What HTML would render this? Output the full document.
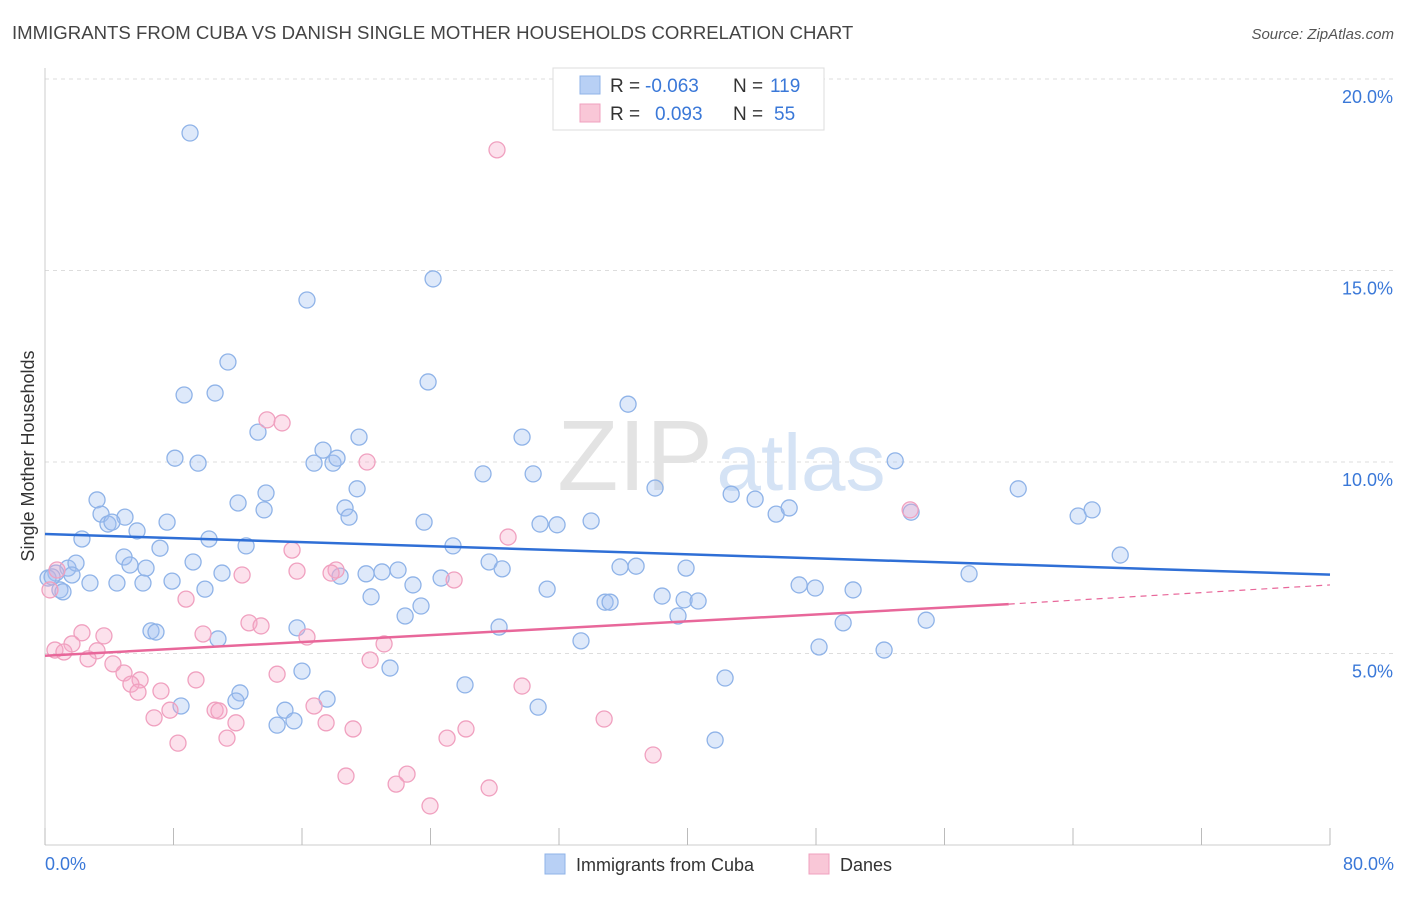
<!DOCTYPE html>
<html><head><meta charset="utf-8"><style>
body{margin:0;background:#fff;font-family:"Liberation Sans",sans-serif}
svg text{font-family:"Liberation Sans",sans-serif}
</style></head><body>
<svg id="chart" width="1406" height="892">
<text x="12" y="39" font-size="18.6" fill="#444">IMMIGRANTS FROM CUBA VS DANISH SINGLE MOTHER HOUSEHOLDS CORRELATION CHART</text>
<text x="1394" y="39" font-size="15" fill="#555" font-style="italic" text-anchor="end">Source: ZipAtlas.com</text>
<g id="grid"></g>
<text x="635" y="490" font-size="100" fill="#e3e3e3" font-family="Liberation Serif" text-anchor="middle">ZIP</text>
<text x="801" y="490" font-size="80" fill="#d5e3f5" text-anchor="middle">atlas</text>
<line x1="45" y1="68" x2="45" y2="845" stroke="#ccc"/>
<line x1="45" y1="845" x2="1330" y2="845" stroke="#ccc"/>
<g id="xticks"></g>
<g id="yticks"></g>
<text x="45" y="870" font-size="18" fill="#3a78d8">0.0%</text>
<text x="1394" y="870" font-size="18" fill="#3a78d8" text-anchor="end">80.0%</text>
<text transform="translate(34,456) rotate(-90)" font-size="18" fill="#333" text-anchor="middle">Single Mother Households</text>
<g id="pts"></g>
<g id="trends"></g>
<g>
<rect x="553" y="68" width="271" height="62" fill="#fff" stroke="#ddd"/>
<rect x="580" y="76" width="20" height="18" fill="#b8d0f5" stroke="#8fb3e8"/>
<rect x="580" y="104" width="20" height="18" fill="#f9c7d7" stroke="#f0a0bf"/>
<text x="610" y="92" font-size="19" fill="#333">R =</text>
<text x="645" y="92" font-size="19" fill="#3a78d8">-0.063</text>
<text x="733" y="92" font-size="19" fill="#333">N =</text>
<text x="770" y="92" font-size="19" fill="#3a78d8">119</text>
<text x="610" y="120" font-size="19" fill="#333">R =</text>
<text x="655" y="120" font-size="19" fill="#3a78d8">0.093</text>
<text x="733" y="120" font-size="19" fill="#333">N =</text>
<text x="774" y="120" font-size="19" fill="#3a78d8">55</text>
</g>
<g>
<rect x="545" y="854" width="20" height="20" fill="#b8d0f5" stroke="#8fb3e8"/>
<text x="576" y="871" font-size="18" fill="#333">Immigrants from Cuba</text>
<rect x="809" y="854" width="20" height="20" fill="#f9c7d7" stroke="#f0a0bf"/>
<text x="840" y="871" font-size="18" fill="#333">Danes</text>
</g>
</svg>
<script>
const yTicks=[5,10,15,20];
const yTickLabels=["5.0%","10.0%","15.0%","20.0%"];
const xTickVals=[0,8,16,24,32,40,48,56,64,72,80];
const cubaX=[9.03,24.16,16.31,11.39,23.85,8.66,10.59,36.30,13.26,29.70,19.55,17.31,8.09,9.53,16.75,17.93,18.18,52.93,27.27,30.39,3.24,12.02,13.76,19.43,37.98,42.72,44.21,60.59,3.49,4.98,13.64,18.68,18.93,23.60,30.82,31.88,34.00,45.52,46.33,53.92,64.32,65.19,3.92,4.17,7.60,5.73,2.30,10.21,7.16,12.52,25.40,66.94,4.92,5.29,6.29,1.43,0.68,1.93,1.68,0.19,0.93,2.80,4.48,6.10,7.91,9.22,11.02,9.96,18.37,19.99,20.98,21.98,24.66,22.91,27.65,28.46,31.26,35.80,36.80,39.91,57.53,46.95,47.95,50.31,20.30,23.41,22.42,34.87,35.18,38.42,39.79,40.66,39.41,15.69,28.27,6.60,6.91,10.77,33.37,49.69,54.86,48.19,52.24,21.48,16.00,42.34,26.15,12.14,11.89,8.47,17.56,30.70,14.94,14.45,15.50,41.72,1.12,0.44];
const cubaY=[18.59,14.78,14.23,12.61,12.09,11.75,11.80,11.51,10.78,10.65,10.65,10.31,10.10,9.97,9.97,9.97,10.10,10.03,9.69,9.69,9.01,8.93,9.19,9.30,9.32,9.16,9.03,9.30,8.64,8.56,8.75,8.80,8.56,8.43,8.38,8.36,8.46,8.64,8.80,8.69,8.59,8.75,8.38,8.43,8.43,8.20,7.99,7.99,7.75,7.81,7.81,7.57,7.52,7.31,7.23,7.23,7.10,7.36,7.05,6.97,6.66,6.84,6.84,6.84,6.89,7.39,7.10,6.68,7.02,7.08,7.13,7.18,6.97,6.79,7.39,7.21,6.68,7.26,7.28,7.23,7.08,6.79,6.71,6.66,6.48,6.24,5.98,6.34,6.34,6.50,6.40,6.37,5.98,5.67,5.69,5.59,5.56,5.38,5.33,5.80,5.87,5.17,5.09,4.62,4.54,4.36,4.18,3.97,3.76,3.63,3.81,3.60,3.52,3.13,3.24,2.74,6.61,7.00];
const danesX=[28.14,13.82,14.76,20.05,53.86,28.83,15.38,0.75,0.31,18.12,15.69,12.27,17.81,25.47,8.78,12.70,13.45,9.84,16.31,2.30,3.67,1.68,21.11,0.62,1.18,3.24,2.68,20.24,4.23,4.92,5.92,5.35,9.40,14.45,7.22,5.79,7.78,16.75,10.59,10.83,29.70,6.79,11.89,17.50,19.18,26.21,25.03,11.33,8.28,34.81,37.86,18.74,22.54,21.86,23.97,27.65];
const danesY=[18.15,11.10,11.02,10.00,8.75,8.04,7.70,7.18,6.66,7.18,7.15,7.05,7.10,6.92,6.42,5.80,5.72,5.51,5.43,5.54,5.46,5.25,5.25,5.09,5.04,5.07,4.86,4.83,4.73,4.49,4.31,4.20,4.31,4.46,4.02,3.99,3.52,3.63,3.52,3.50,4.15,3.32,3.19,3.19,3.03,3.03,2.79,2.79,2.66,3.29,2.35,1.80,1.85,1.59,1.02,1.49];
const cubaTrend=[8.12,7.06];
const danesTrend=[4.94,6.29,6.79];
const danesSolidEnd=60;

const NS="http://www.w3.org/2000/svg";
const sx=v=>45+v*(1285/80);
const sy=v=>845-v*(766/20);
function mk(tag,parent,attrs){const e=document.createElementNS(NS,tag);for(const k in attrs)e.setAttribute(k,attrs[k]);parent.appendChild(e);return e;}
const grid=document.getElementById('grid'),yt=document.getElementById('yticks'),xt=document.getElementById('xticks');
yTicks.forEach((t,i)=>{
 const l=mk('line',grid,{x1:45,x2:1395,y1:sy(t),y2:sy(t),stroke:'#ddd','stroke-dasharray':'4,4'});
 
 
 const tx=mk('text',yt,{x:1393,y:sy(t)+24,'font-size':18,fill:'#3a78d8','text-anchor':'end'});
 tx.textContent=yTickLabels[i];
 
 
});
xTickVals.forEach(t=>{
 const l=mk('line',xt,{x1:sx(t),x2:sx(t),y1:828,y2:845,stroke:'#bbb'});
 
 
});
const pts=document.getElementById('pts');
cubaX.forEach((x,i)=>{
 const c=mk('circle',pts,{cx:sx(x),cy:sy(cubaY[i]),r:8,fill:'rgba(160,192,240,0.35)',stroke:'#8fb3e8','stroke-width':1.3});
 
 
});
danesX.forEach((x,i)=>{
 const c=mk('circle',pts,{cx:sx(x),cy:sy(danesY[i]),r:8,fill:'rgba(245,170,200,0.35)',stroke:'#f0a0bf','stroke-width':1.3});
 
 
});
const tr=document.getElementById('trends');
const bl=mk('line',tr,{x1:sx(0),y1:sy(cubaTrend[0]),x2:sx(80),y2:sy(cubaTrend[1]),stroke:'#2f6fd6','stroke-width':2.5});


const pl=mk('line',tr,{x1:sx(0),y1:sy(danesTrend[0]),x2:sx(danesSolidEnd),y2:sy(danesTrend[1]),stroke:'#e8679a','stroke-width':2.5});


const pd=mk('line',tr,{x1:sx(danesSolidEnd),y1:sy(danesTrend[1]),x2:sx(80),y2:sy(danesTrend[2]),stroke:'#e8679a','stroke-width':1.2,'stroke-dasharray':'6,5'});


</script>
</body></html>
